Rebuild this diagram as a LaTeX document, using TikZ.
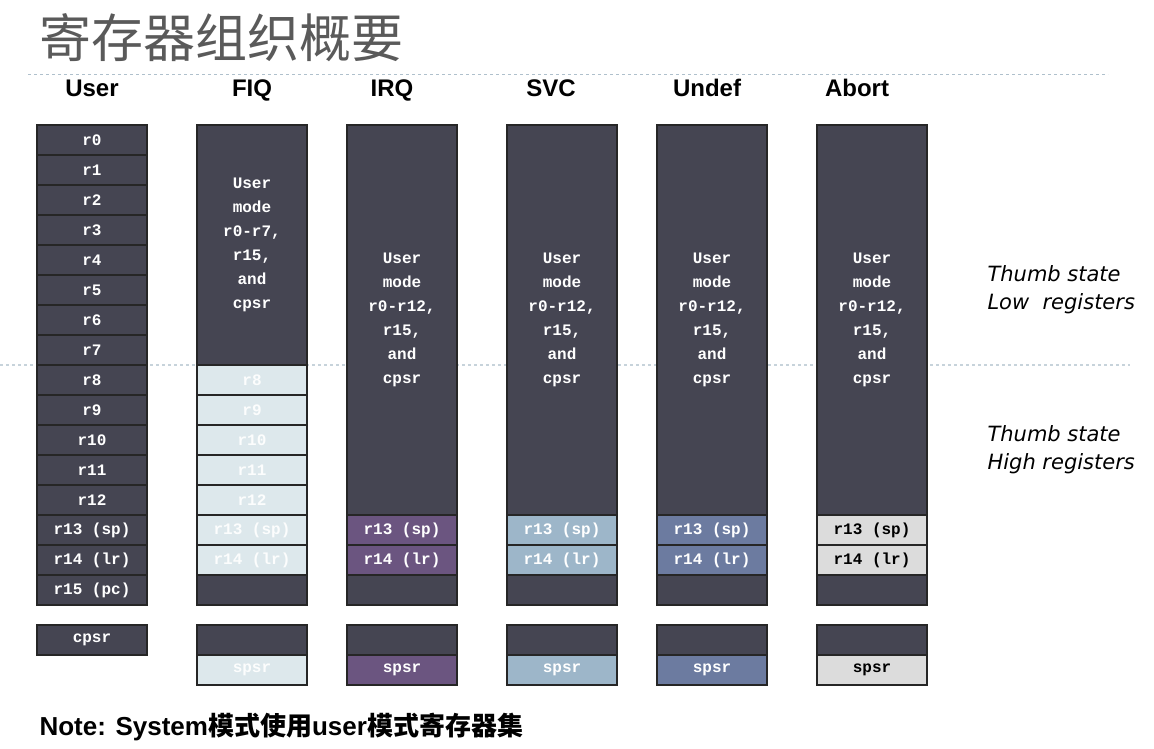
\documentclass[tikz,border=0pt]{standalone}
\usepackage{fontspec}
\setmainfont{Liberation Sans}
\setmonofont{Liberation Mono}
\newfontfamily\cjk{Noto Sans CJK SC}
\newfontfamily\hand{DejaVu Sans}
\definecolor{regdark}{HTML}{454552}
\definecolor{fiqreg}{HTML}{DDE8EC}
\definecolor{irqreg}{HTML}{6B5580}
\definecolor{svcreg}{HTML}{9DB6C9}
\definecolor{undreg}{HTML}{6C7BA0}
\definecolor{abtreg}{HTML}{DCDCDC}
\definecolor{titlegray}{HTML}{5A5A5A}
\definecolor{rulegray}{HTML}{AFC0CC}
\tikzset{
  reg/.style={draw=black!85, line width=1.5pt, fill=regdark, minimum width=110pt, minimum height=30pt, inner sep=0pt, font=\ttfamily\bfseries\fontsize{16}{16}\selectfont, text=white},
  modehead/.style={anchor=base, font=\bfseries\fontsize{24}{24}\selectfont},
  blocktext/.style={align=center, text=white, font=\ttfamily\bfseries\fontsize{16}{24}\selectfont},
  thumb/.style={align=left, font=\hand\itshape\fontsize{21}{28}\selectfont}
}
\begin{document}
\begin{tikzpicture}[x=1pt,y=-1pt]
\useasboundingbox (0,0) rectangle (1154,749);
\node[text=titlegray, anchor=west, font=\cjk\fontsize{52}{52}\selectfont] (title) at (36,38) {寄存器组织概要};
\draw[rulegray, dashed, line width=1pt] (28,75) -- (1108,75);
\draw[rulegray!70, dash pattern=on 3pt off 3pt, line width=2pt] (0,365) -- (1130,365);
% mode headings
\node[modehead] (hUser) at (92,97) {User};
\node[modehead] (hFIQ) at (252,97) {FIQ};
\node[modehead] (hIRQ) at (392,97) {IRQ};
\node[modehead] (hSVC) at (551,97) {SVC};
\node[modehead] (hUnd) at (707,97) {Undef};
\node[modehead] (hAbt) at (857,97) {Abort};
% user registers
\foreach \r [count=\i from 0] in {r0,r1,r2,r3,r4,r5,r6,r7,r8,r9,r10,r11,r12,r13 (sp),r14 (lr),r15 (pc)}
  \node[reg] (u\i) at (92,140+30*\i) {\r};
\node[reg] (ucpsr) at (92,640) {cpsr};
% FIQ
\node[reg, minimum height=240pt] (fiqtop) at (252,245) {};
\node[blocktext] (fiqtxt) at (252,245) {User\\mode\\r0-r7,\\r15,\\and\\cpsr};
\foreach \r [count=\i from 8] in {r8,r9,r10,r11,r12,r13 (sp),r14 (lr)}
  \node[reg, fill=fiqreg, text=white!92!fiqreg] (f\i) at (252,140+30*\i) {\r};
\node[reg] (f15) at (252,590) {};
\node[reg] (fcpsr) at (252,640) {};
\node[reg, fill=fiqreg, text=white!92!fiqreg] (fspsr) at (252,670) {spsr};
% IRQ, SVC, Undef, Abort
\foreach \m/\x/\c/\t in {irq/402/irqreg/white, svc/562/svcreg/white, und/712/undreg/white, abt/872/abtreg/black}{
  \node[reg, minimum height=390pt] (\m top) at (\x,320) {};
  \node[blocktext] (\m txt) at (\x,320) {User\\mode\\r0-r12,\\r15,\\and\\cpsr};
  \node[reg, fill=\c, text=\t] (\m13) at (\x,530) {r13 (sp)};
  \node[reg, fill=\c, text=\t] (\m14) at (\x,560) {r14 (lr)};
  \node[reg] (\m15) at (\x,590) {};
  \node[reg] (\m cpsr) at (\x,640) {};
  \node[reg, fill=\c, text=\t] (\m spsr) at (\x,670) {spsr};
}
% thumb notes
\node[thumb, anchor=west] (lowregs) at (984,290) {Thumb state\\Low\ \ registers};
\node[thumb, anchor=west] (highregs) at (984,450) {Thumb state\\High registers};
\node[anchor=west, font=\bfseries\fontsize{26}{26}\selectfont] (note) at (36,727) {Note: System{\cjk 模式使用}user{\cjk 模式寄存器集}};
\end{tikzpicture}
\end{document}
